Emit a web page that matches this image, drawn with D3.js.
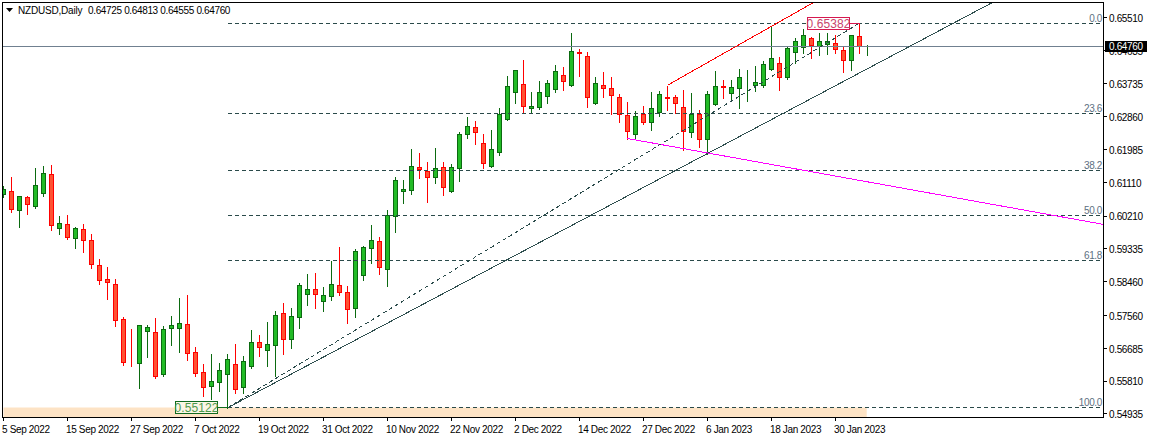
<!DOCTYPE html>
<html><head><meta charset="utf-8">
<script src="https://cdn.jsdelivr.net/npm/d3@7/dist/d3.min.js"></script>
<style>
html,body{margin:0;padding:0;background:#fff;overflow:hidden}
svg{display:block}
text{font-family:"Liberation Sans",Arial,sans-serif;font-size:10px;letter-spacing:-0.35px}
</style></head><body>
<svg id="c" width="1149" height="438"></svg>
<script>
// Prices in 1/100000 units, one entry per daily bar
const opens=[60803,60893,60387,60734,60483,60840,61346,59908,60014,59641,59881,59588,58922,58549,58416,57483,56365,56311,57164,57137,56008,57233,57244,57350,56604,56071,55699,55805,56018,56284,55661,56231,56871,56658,56791,57643,56950,57537,58149,58282,57963,58096,58389,58203,57776,58655,59375,59561,58815,60227,60893,60920,61533,61426,61266,61533,60893,61506,62412,62598,62172,61559,61932,62811,63531,63744,63105,63120,63424,63611,63984,63717,64604,64490,63238,63717,63637,63397,62918,62412,62945,62731,62987,63397,63397,63131,62465,62945,62278,63211,63691,63504,63637,63813,63725,63717,64159,64303,63930,64596,64729,64969,64756,64809,64836,64650,64383,65022,64725];
const highs=[61061,61301,60768,60795,61541,61594,61621,60262,60289,59961,60049,59783,59117,58903,58584,57571,57252,57350,57358,57545,57323,57598,58078,58157,56772,56319,56578,56338,56578,56852,56532,57217,57084,57438,57731,57944,57803,58477,58717,58743,58370,59055,59436,58389,59375,59455,60022,59702,60422,61301,61221,62047,61940,61700,62073,61700,61647,62492,62899,62793,62446,62553,63139,63991,64151,64418,63565,63858,63885,64285,64231,65137,64711,64631,63965,64098,63965,63512,63299,63059,63192,63565,63592,63725,63485,63619,63539,63086,63592,64125,63885,63885,64178,64151,64258,64391,65297,64498,64764,64995,65236,65022,65129,65129,65083,64782,65049,65382,64813];
const lows=[60768,60350,59969,60297,60456,60776,59870,59764,59631,59391,59284,58858,58432,58033,57313,56274,56247,55661,56487,55927,55981,56807,56620,56407,55981,55448,55368,55600,55122,55528,55528,56205,56514,56247,56000,56567,56727,57260,57891,57811,57731,58024,58138,57411,57571,58557,58991,58717,58397,59836,60608,60848,61274,60635,61141,60821,60893,61194,62340,62180,61541,61559,61879,62811,63254,63014,63014,63094,63254,63547,63619,63717,63991,63166,63238,63414,62971,62747,62305,62313,62704,62553,62907,63086,63006,62012,62366,62100,61905,63211,63405,63318,63139,63325,63592,63698,64151,63619,63903,64330,64596,64479,64551,64585,64596,64106,64159,64612,64555];
const closes=[60947,60414,60760,60547,61053,61373,59977,60041,59668,59908,59588,58949,58522,58459,57457,56338,56350,57323,57270,55954,57217,57323,57377,56578,56045,55672,55832,56124,56418,55619,56365,56871,56737,56817,57590,56950,57563,58389,58282,58149,58122,58416,58203,57750,59295,59401,59588,58868,60254,61186,60947,61559,61487,61266,61506,61000,61533,62412,62625,62465,61639,62012,62945,63691,64117,63158,63158,63531,63771,64090,63824,64623,64570,63397,63771,63637,63451,62945,62492,62891,62731,63105,63477,63365,63238,62492,62945,62278,63477,63691,63672,63664,63930,63832,63797,64276,64436,63930,64702,64889,65049,64782,64889,64889,64676,64383,65049,64756,64760];

const priceTicks=[0.65510,0.64635,0.63735,0.62860,0.61985,0.61110,0.60210,0.59335,0.58460,0.57560,0.56685,0.55810,0.54935];
const dateBars=[0,8,16,24,32,40,48,56,64,72,80,88,96,104];
const dateLabels=["5 Sep 2022","15 Sep 2022","27 Sep 2022","7 Oct 2022","19 Oct 2022","31 Oct 2022","10 Nov 2022","22 Nov 2022","2 Dec 2022","14 Dec 2022","27 Dec 2022","6 Jan 2023","18 Jan 2023","30 Jan 2023"];
const fibRatios=[0,0.236,0.382,0.5,0.618,1];
const fibLabels=["0.0","23.6","38.2","50.0","61.8","100.0"];
const title="NZDUSD,Daily";
const ohlcText=["0.64725","0.64813","0.64555","0.64760"];
const swingHigh=0.65382, swingLow=0.55122, lastPrice=0.64760;
const swingLowBar=28, swingHighBar=107;
const magentaAnchors=[[78,0.62305],[88,0.61920]];
const redAnchors=[[83,0.63725],[96,0.65297]];
const blackAnchors=[[28,0.55122],[88,0.61905]];

const W=1149,H=438,L=2.5,R=1103.5,T=2.5,B=417.5;
const svg=d3.select("#c");
const x=d3.scaleLinear().domain([0,1]).range([3.5,11.5]);
const y=d3.scaleLinear().domain([0.54935,0.65510]).range([414.9,18.3]);
const py=v=>Math.floor(y(v)+0.05)+0.5;
const bars=d3.range(opens.length).map(i=>({i,o:opens[i]/1e5,h:highs[i]/1e5,l:lows[i]/1e5,c:closes[i]/1e5}));

svg.append("defs").append("clipPath").attr("id","plot").append("rect")
  .attr("x",L).attr("y",T).attr("width",R-L).attr("height",B-T);
const plot=svg.append("g").attr("clip-path","url(#plot)");

// swing-range band
plot.append("rect").attr("x",x(0)).attr("y",py(swingLow))
  .attr("width",x(swingHighBar+0.9)-x(0)).attr("height",B-py(swingLow)).attr("fill","#fde3c5");

// candles
const GREEN="#0b6a10",GFILL="#22bb26",RED="#ff0000",RFILL="#ff5233";
const cg=plot.append("g").attr("shape-rendering","crispEdges");
const up=d=>d.c>=d.o;
cg.selectAll("line.w").data(bars).join("line").attr("class","w")
  .attr("x1",d=>x(d.i)).attr("x2",d=>x(d.i)).attr("y1",d=>py(d.h)).attr("y2",d=>py(d.l)+1)
  .attr("stroke",d=>up(d)?GREEN:RED);
cg.selectAll("rect.b").data(bars).join("rect").attr("class","b")
  .attr("x",d=>x(d.i)-2).attr("width",d=>d.i===108?0:4)
  .attr("y",d=>py(Math.max(d.o,d.c))).attr("height",d=>py(Math.min(d.o,d.c))-py(Math.max(d.o,d.c)))
  .attr("fill",d=>up(d)?GFILL:RFILL).attr("stroke",d=>up(d)?GREEN:RED);
// last bar: small cross-shaped doji
const last=bars[bars.length-1];
cg.append("line").attr("x1",x(last.i)-2).attr("x2",x(last.i)+3)
  .attr("y1",py(last.c)).attr("y2",py(last.c)).attr("stroke",GREEN);

// current price line
plot.append("line").attr("x1",L).attr("x2",R).attr("y1",py(lastPrice)).attr("y2",py(lastPrice))
  .attr("stroke","#708090").attr("shape-rendering","crispEdges");

// fibonacci levels
const DK="#2a4a4a";
const levels=fibRatios.map((r,k)=>({p:swingHigh-r*(swingHigh-swingLow),t:fibLabels[k]}));
const fg=plot.append("g");
fg.selectAll("line").data(levels).join("line")
  .attr("x1",x(swingLowBar)).attr("x2",1101).attr("y1",d=>py(d.p)).attr("y2",d=>py(d.p))
  .attr("stroke",DK).attr("stroke-dasharray","4,3").attr("shape-rendering","crispEdges");
fg.selectAll("text").data(levels).join("text")
  .attr("x",1102).attr("y",d=>py(d.p)-2).attr("text-anchor","end").attr("fill","#5d7082").text(d=>d.t);

// trend lines (rays extrapolated from two anchor bars)
function ray(a,endBar){const s=(a[1][1]-a[0][1])/(a[1][0]-a[0][0]);return [a[0],[endBar,a[0][1]+s*(endBar-a[0][0])]];}
const lg=d3.line().x(d=>x(d[0])).y(d=>y(d[1]));
plot.append("path").attr("d",lg(ray(blackAnchors,160))).attr("fill","none").attr("stroke","#2f4f4f").attr("shape-rendering","crispEdges");
plot.append("path").attr("d",lg(ray(redAnchors,135))).attr("fill","none").attr("stroke","#f00").attr("shape-rendering","crispEdges");
plot.append("path").attr("d",lg(ray(magentaAnchors,150))).attr("fill","none").attr("stroke","#f0f").attr("shape-rendering","crispEdges");
plot.append("path").attr("d",lg([[swingLowBar,swingLow],[swingHighBar,swingHigh]])).attr("fill","none")
  .attr("stroke",DK).attr("stroke-dasharray","4,3").attr("shape-rendering","crispEdges");

// price tags
function tag(txt,boxL,boxR,price,stroke,color,fill,barIdx){
  const yy=py(price),g=svg.append("g");
  g.append("rect").attr("x",boxL+0.5).attr("y",yy-6).attr("width",boxR-boxL).attr("height",12)
    .attr("fill",fill).attr("stroke",stroke).attr("shape-rendering","crispEdges");
  g.append("text").attr("x",(boxL+boxR)/2+0.5).attr("y",yy+4).attr("text-anchor","middle")
    .attr("fill",color).style("font-size","12px").style("letter-spacing","0.1px").text(txt);
  g.append("line").attr("x1",boxR+0.5).attr("x2",x(barIdx)).attr("y1",yy).attr("y2",yy)
    .attr("stroke",stroke).attr("shape-rendering","crispEdges");
}
tag("0.55122",175,217,swingLow,"#0f6a1e","#4f9a4f","#fbf6e6",swingLowBar);
tag("0.65382",807,849,swingHigh,"#d6184f","#c8446a","#fff",swingHighBar);

// frame
svg.append("rect").attr("x",L).attr("y",T).attr("width",R-L).attr("height",B-T)
  .attr("fill","none").attr("stroke","#000").attr("shape-rendering","crispEdges");

// axes
const ax=svg.append("g").attr("transform",`translate(${R},0)`)
  .call(d3.axisRight(y).offset(0).tickValues(priceTicks).tickSize(3).tickPadding(3).tickFormat(d3.format(".5f")));
const bx=svg.append("g").attr("transform",`translate(0,${B})`)
  .call(d3.axisBottom(x).offset(0).tickValues(dateBars).tickSize(3).tickPadding(2).tickFormat((d,k)=>dateLabels[k]));
[ax,bx].forEach(g=>{g.select(".domain").remove();
  g.selectAll("line").attr("stroke","#000").attr("shape-rendering","crispEdges");
  g.selectAll("text").attr("fill","#000");});
ax.selectAll("line").attr("y1",-1).attr("y2",-1);
ax.selectAll("text").attr("x",5.5).attr("dy","0.34em");
bx.selectAll("text").attr("text-anchor","start").attr("x",-1.5).attr("y",8).attr("dy","0.71em");

// current price marker
const ct=svg.append("g");
ct.append("rect").attr("x",1105).attr("y",py(lastPrice)-5.5).attr("width",42).attr("height",11).attr("fill","#000");
ct.append("text").attr("x",1109).attr("y",py(lastPrice)+3.5).attr("fill","#fff").text(d3.format(".5f")(lastPrice));

// title
svg.append("path").attr("d",d3.line()([[6,8],[13,8],[9.5,12]])+"Z").attr("fill","#000");
svg.append("text").attr("x",18).attr("y",14).attr("fill","#000").style("letter-spacing","-0.2px").text(title);
svg.append("text").attr("x",88).attr("y",14).attr("fill","#000").text(ohlcText.join(" "));
</script></body></html>
